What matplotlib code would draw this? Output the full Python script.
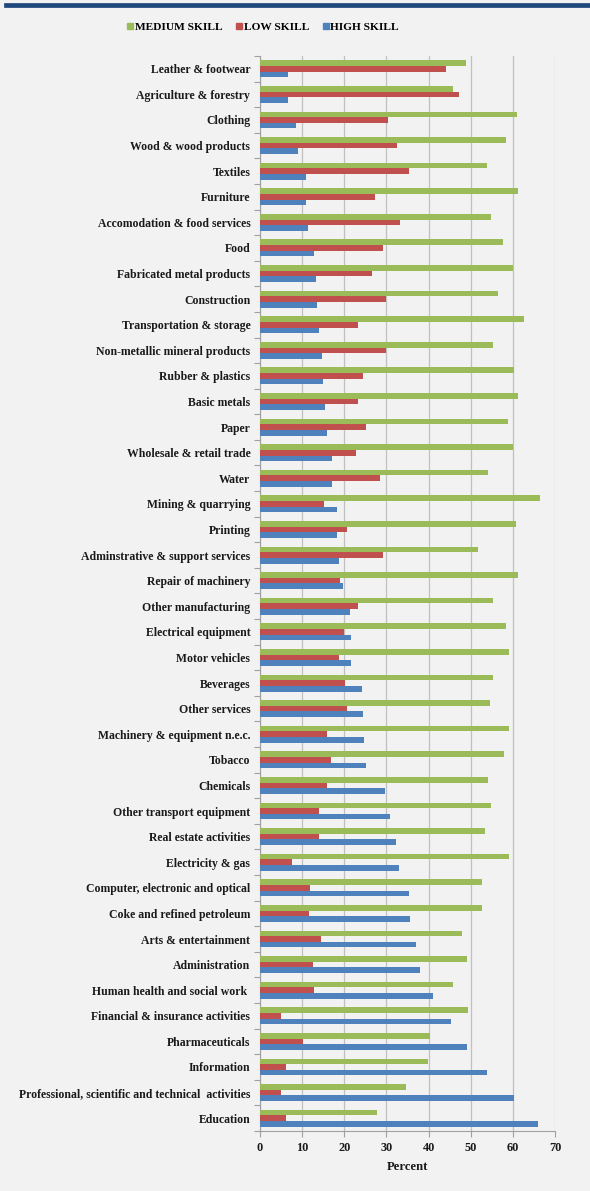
import matplotlib.pyplot as plt
import numpy as np
from matplotlib.lines import Line2D
from matplotlib.ticker import FixedLocator

# Industries, top to bottom
sectors = [
    "Leather & footwear", "Agriculture & forestry", "Clothing", "Wood & wood products",
    "Textiles", "Furniture", "Accomodation & food services", "Food",
    "Fabricated metal products", "Construction", "Transportation & storage",
    "Non-metallic mineral products", "Rubber & plastics", "Basic metals", "Paper",
    "Wholesale & retail trade", "Water", "Mining & quarrying", "Printing",
    "Adminstrative & support services", "Repair of machinery", "Other manufacturing",
    "Electrical equipment", "Motor vehicles", "Beverages", "Other services",
    "Machinery & equipment n.e.c.", "Tobacco", "Chemicals", "Other transport equipment",
    "Real estate activities", "Electricity & gas", "Computer, electronic and optical",
    "Coke and refined petroleum", "Arts & entertainment", "Administration",
    "Human health and social work ", "Financial & insurance activities",
    "Pharmaceuticals", "Information", "Professional, scientific and technical  activities",
    "Education",
]

medium_skill = [48.9, 45.7, 60.9, 58.4, 53.8, 61.3, 54.9, 57.6,
                60.0, 56.5, 62.6, 55.3, 60.3, 61.2, 58.8,
                60.0, 54.2, 66.5, 60.8, 51.7, 61.2, 55.2, 58.4,
                59.2, 55.3, 54.6, 59.2, 57.9, 54.2, 54.9, 53.4,
                59.2, 52.7, 52.6, 48.0, 49.0, 45.8, 49.4,
                40.4, 39.8, 34.7, 27.7]
low_skill = [44.2, 47.3, 30.3, 32.4, 35.3, 27.4, 33.1, 29.3,
             26.6, 29.8, 23.3, 29.9, 24.5, 23.2, 25.1,
             22.8, 28.5, 15.1, 20.6, 29.3, 18.9, 23.3, 19.9,
             18.7, 20.2, 20.6, 15.9, 16.8, 16.0, 14.1, 14.1,
             7.6, 11.8, 11.7, 14.5, 12.6, 12.9, 4.9,
             10.2, 6.2, 5.0, 6.1]
high_skill = [6.6, 6.7, 8.6, 8.9, 10.8, 10.9, 11.5, 12.8,
              13.2, 13.5, 13.9, 14.6, 14.9, 15.5, 15.8,
              17.0, 17.0, 18.2, 18.3, 18.7, 19.7, 21.3, 21.5,
              21.7, 24.3, 24.4, 24.7, 25.1, 29.7, 30.8, 32.3,
              32.9, 35.3, 35.5, 37.0, 38.0, 41.0, 45.4,
              49.2, 53.8, 60.2, 66.0]

green = "#9bbb59"
red = "#c0504d"
blue = "#4f81bd"
bg = "#f2f2f2"

plt.rcParams["font.family"] = ["Liberation Serif", "DejaVu Serif"]
plt.rcParams["font.weight"] = "bold"

fig = plt.figure(figsize=(5.9, 11.91), dpi=100, facecolor=bg)
ax = fig.add_axes([0.4407, 0.0504, 0.5, 0.9026], facecolor=bg)

y = np.arange(len(sectors))
h = 0.22
ax.barh(y - h, medium_skill, height=h, color=green, zorder=3)
ax.barh(y, low_skill, height=h, color=red, zorder=3)
ax.barh(y + h, high_skill, height=h, color=blue, zorder=3)

ax.set_ylim(len(sectors) - 0.5, -0.5)
ax.set_xlim(0, 70)
ax.set_xticks(range(0, 71, 10))
ax.set_yticks(y)
ax.set_yticklabels(sectors, fontsize=8.45, fontweight="bold", color="#1a1a1a")
ax.tick_params(axis="y", length=0, pad=7)
ax.yaxis.set_minor_locator(FixedLocator(np.arange(-0.5, len(sectors), 1.0)))
ax.tick_params(axis="y", which="minor", length=4, color="#a0a0a0", width=0.8)
ax.tick_params(axis="x", length=4, color="#a0a0a0", width=0.8, labelsize=8.8,
               labelcolor="#1a1a1a", pad=4)
for lbl in ax.get_xticklabels():
    lbl.set_fontweight("bold")

ax.grid(axis="x", color="#c0c0c0", linewidth=0.9, zorder=0)
for side in ["top", "right"]:
    ax.spines[side].set_visible(False)
for side in ["left", "bottom"]:
    ax.spines[side].set_color("#a0a0a0")
    ax.spines[side].set_linewidth(0.8)

ax.set_xlabel("Percent", fontsize=9.2, fontweight="bold", color="#1a1a1a", labelpad=5)

handles = [Line2D([], [], marker="s", linestyle="none", markersize=4.5, color=c)
           for c in (green, red, blue)]
fig.legend(handles, ["MEDIUM SKILL", "LOW SKILL", "HIGH SKILL"], ncol=3,
           loc="center", bbox_to_anchor=(0.445, 0.977), frameon=False,
           prop={"weight": "bold", "size": 8.2}, handletextpad=0.05,
           columnspacing=1.1, handlelength=0.7)

# top rule
fig.add_artist(Line2D([0.01, 1.0], [0.9962, 0.9962], color="#1f497d", linewidth=3.4))

fig.savefig("out.png", dpi=100, facecolor=bg)
